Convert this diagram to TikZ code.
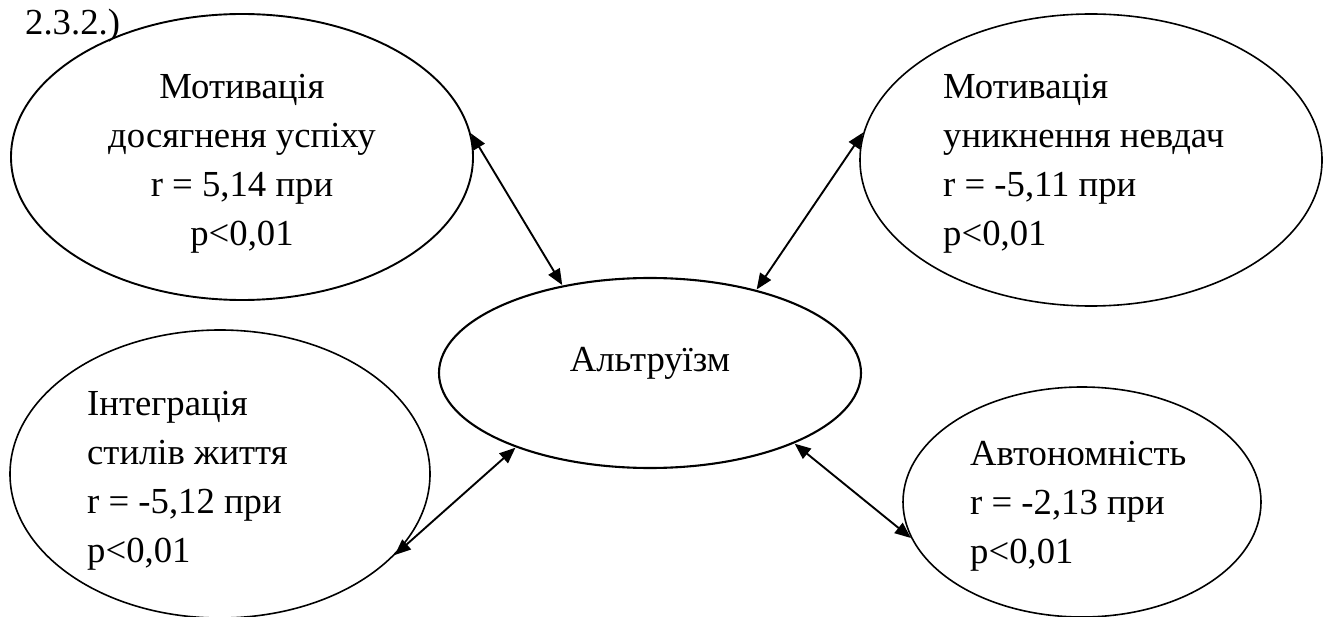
\documentclass[tikz,border=0pt]{standalone}
\usepackage{fontspec}
\setmainfont{Liberation Serif}
\usetikzlibrary{shapes.geometric,arrows.meta}
\tikzset{
  ell/.style={draw, ellipse, inner sep=0pt, line width=1.6pt},
  txt/.style={inner sep=0pt, font=\fontsize{36.7}{49}\selectfont},
  conn/.style={{Triangle[length=16pt,width=13pt]}-{Triangle[length=16pt,width=13pt]}, line width=1.9pt, shorten <=0.5pt, shorten >=0.5pt}
}
\begin{document}
\begin{tikzpicture}[x=1pt,y=-1pt]
\useasboundingbox (0,0) rectangle (1329,617);
% ellipses
\node[ell, minimum width=462pt, minimum height=286pt, line width=1.9pt] (e1) at (242,157) {};
\node[ell, minimum width=462pt, minimum height=292pt] (e2) at (1091,160) {};
\node[ell, minimum width=422pt, minimum height=190pt, line width=2.1pt] (ec) at (650,373) {};
\node[ell, minimum width=420pt, minimum height=288pt] (e3) at (220,474) {};
\node[ell, minimum width=358pt, minimum height=230pt] (e5) at (1082,502) {};
% texts
\node[txt, anchor=base west] (lbl) at (25,35) {2.3.2.)};
\node[txt, anchor=base] (t1) at (242,99) {\begin{tabular}[t]{@{}c@{}}Мотивація\\досягненя успіху\\r = 5,14 при\\p<0,01\end{tabular}};
\node[txt, anchor=base west] (t2) at (943,99) {\begin{tabular}[t]{@{}l@{}}Мотивація\\уникнення невдач\\r = -5,11 при\\p<0,01\end{tabular}};
\node[txt, anchor=base] (tc) at (650,371) {Альтруїзм};
\node[txt, anchor=base west] (t3) at (87,415) {\begin{tabular}[t]{@{}l@{}}Інтеграція\\стилів життя\\r = -5,12 при\\p<0,01\end{tabular}};
\node[txt, anchor=base west] (t5) at (970,465) {\begin{tabular}[t]{@{}l@{}}Автономність\\r = -2,13 при\\p<0,01\end{tabular}};
% connectors
\draw[conn] (e1.6) -- (ec.135);
\draw[conn] (e2.173) -- (ec.38);
\draw[conn] (e3.335) -- (ec.209);
\draw[conn] (e5.192) -- (ec.334);
\end{tikzpicture}
\end{document}
